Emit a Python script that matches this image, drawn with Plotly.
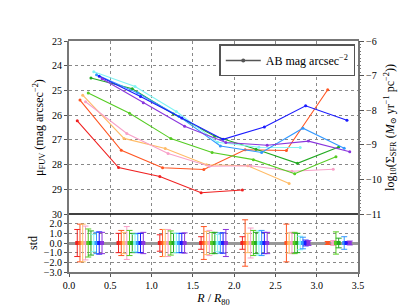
import plotly.graph_objects as go

# ---------------- data ----------------
BIN_START = [0.1, 0.6, 1.1, 1.6, 2.1, 2.6, 3.1]
SERIES_NAMES = ["red", "orangered", "orange", "pink", "greenA", "greenB",
                "cyan", "lightblue", "blue", "purple"]
SERIES_OFFSET = [0.0, 0.033, 0.066, 0.1, 0.133, 0.166, 0.2, 0.233, 0.266, 0.3]
SERIES_COLORS = ["#f02020", "#ff5522", "#ffbb66", "#f8a0c8", "#55cc22",
                 "#22aa22", "#80f4f4", "#3399ff", "#1a1aff", "#8a35dd"]

mu_red = [26.23, 28.12, 28.48, 29.14, 29.03, None, None]
mu_orangered = [25.39, 27.42, 28.13, 28.20, 27.40, 27.43, 24.97]
mu_orange = [25.19, 26.94, 27.35, 28.01, 28.05, 28.77, None]
mu_pink = [25.46, 26.74, 27.55, 28.07, 28.05, 28.27, 28.19]
mu_greenA = [25.10, 25.92, 26.95, 27.51, 27.80, 28.37, 27.68]
mu_greenB = [24.50, 24.93, 25.95, 26.85, 27.38, 27.95, 27.29]
mu_cyan = [24.24, 24.84, 25.85, 27.10, 27.30, 27.31, None]
mu_lightblue = [24.37, 25.10, 26.05, 27.25, 27.51, 26.53, 27.34]
mu_blue = [24.43, 25.25, 26.12, 26.98, 26.48, 25.62, 26.21]
mu_purple = [24.53, 25.50, 26.45, 27.11, 27.22, 27.05, 27.48]

std_red = [1.4, 1.0, 0.85, 0.65, 0.65, None, None]
std_orangered = [1.95, 1.3, 1.4, 1.7, 2.4, 1.95, 0.15]
std_orange = [1.95, 1.1, 1.4, 1.2, 1.0, 1.05, None]
std_pink = [1.75, 1.7, 1.4, 1.3, 1.55, 1.1, 0.25]
std_greenA = [1.45, 1.3, 1.25, 1.1, 1.3, 1.1, 1.15]
std_greenB = [1.25, 1.0, 1.0, 1.1, 1.1, 1.0, 0.5]
std_cyan = [0.9, 0.9, 1.0, 0.9, 1.25, 0.7, None]
std_lightblue = [1.1, 1.0, 1.0, 1.05, 1.3, 0.6, 0.65]
std_blue = [1.15, 1.0, 1.0, 1.05, 1.1, 0.3, 0.1]
std_purple = [1.1, 1.1, 1.05, 1.4, 1.1, 0.25, 0.2]

MU = [mu_red, mu_orangered, mu_orange, mu_pink, mu_greenA, mu_greenB,
      mu_cyan, mu_lightblue, mu_blue, mu_purple]
STD = [std_red, std_orangered, std_orange, std_pink, std_greenA, std_greenB,
       std_cyan, std_lightblue, std_blue, std_purple]

X_TICKS = [0.0, 0.5, 1.0, 1.5, 2.0, 2.5, 3.0, 3.5]
MU_TICKS = [23, 24, 25, 26, 27, 28, 29, 30]
SFR_TICKS = [-6, -7, -8, -9, -10, -11]
SFR_LABELS = ["−6", "−7", "−8", "−9", "−10", "−11"]
STD_TICKS = [-3.0, -2.0, -1.0, 0.0, 1.0, 2.0]
LEGEND_LABEL = "AB mag arcsec<sup>−2</sup>"

# ---------------- figure ----------------
FONT = "Liberation Serif, DejaVu Serif, serif"
fig = go.Figure()

for name, off, col, mu, sd in zip(SERIES_NAMES, SERIES_OFFSET, SERIES_COLORS, MU, STD):
    xs = [b + off for b in BIN_START]
    xm = [x for x, v in zip(xs, mu) if v is not None]
    ym = [v for v in mu if v is not None]
    fig.add_trace(go.Scatter(x=xm, y=ym, mode="lines+markers", xaxis="x", yaxis="y",
                             line=dict(color=col, width=1.1),
                             marker=dict(size=3, color=col), showlegend=False,
                             hoverinfo="skip"))
    xe = [x for x, v in zip(xs, sd) if v is not None]
    ye = [v for v in sd if v is not None]
    fig.add_trace(go.Scatter(x=xe, y=[0] * len(ye), mode="markers", xaxis="x2", yaxis="y2",
                             marker=dict(size=4, color=col, symbol="square"),
                             error_y=dict(type="data", array=ye, visible=True,
                                          color=col, thickness=1, width=3),
                             showlegend=False, hoverinfo="skip"))

# invisible trace to anchor the right axis
fig.add_trace(go.Scatter(x=[0, 3.5], y=[SFR_TICKS[0], SFR_TICKS[-1]], mode="markers",
                         xaxis="x", yaxis="y3", marker=dict(opacity=0),
                         showlegend=False, hoverinfo="skip"))

# legend entry
fig.add_trace(go.Scatter(x=[None], y=[None], mode="lines+markers", name=LEGEND_LABEL,
                         line=dict(color="#555555", width=1.5),
                         marker=dict(size=4, color="#555555"), xaxis="x", yaxis="y"))

split = 59 / 235
grid = dict(showgrid=True, gridcolor="#888888", griddash="dot", gridwidth=1)
yborder = dict(showline=True, linecolor="#777777", linewidth=2, mirror=True)

fig.update_layout(
    width=407, height=305,
    margin=dict(l=61, r=57, t=33, b=37),
    paper_bgcolor="white", plot_bgcolor="white",
    font=dict(family=FONT, size=10, color="black"),
    xaxis=dict(domain=[0, 1], anchor="y", range=[0, 3.5], tickvals=X_TICKS,
               showticklabels=False, ticks="", showline=False, **grid, zeroline=False),
    yaxis=dict(domain=[split, 1], anchor="x", range=[30, 23], tickvals=MU_TICKS,
               ticks="outside", ticklen=3, tickcolor="#555555",
               title=dict(text="μ<sub>FUV</sub> (mag arcsec<sup>−2</sup>)",
                          font=dict(size=12), standoff=6),
               **grid, **yborder, zeroline=False),
    yaxis3=dict(overlaying="y", side="right", anchor="x", range=[-11, -6],
                tickvals=SFR_TICKS, ticktext=SFR_LABELS,
                ticks="outside", ticklen=5, tickcolor="#555555", showgrid=False,
                zeroline=False,
                minor=dict(dtick=0.1, ticks="outside", ticklen=2, tickcolor="#777777"),
                title=dict(text="log<sub>10</sub>(Σ<sub>SFR</sub> (<i>M</i><sub>⊙</sub> yr<sup>−1</sup> pc<sup>−2</sup>))",
                           font=dict(size=12), standoff=3)),
    xaxis2=dict(domain=[0, 1], anchor="y2", range=[0, 3.5], tickvals=X_TICKS,
                tickformat=".1f", ticks="outside", ticklen=3, tickcolor="#555555",
                title=dict(text="<i>R</i> / <i>R</i><sub>80</sub>", font=dict(size=12),
                           standoff=2),
                showline=True, linecolor="#777777", linewidth=2, mirror=False,
                **grid, zeroline=False),
    yaxis2=dict(domain=[0, split], anchor="x2", range=[-3, 3], tickvals=STD_TICKS,
                tickformat=".1f", ticks="outside", ticklen=3, tickcolor="#555555",
                title=dict(text="std", font=dict(size=12), standoff=4),
                **grid, **yborder, zeroline=True, zerolinecolor="#999999",
                zerolinewidth=2.5),
    legend=dict(x=0.52, y=0.985, xanchor="left", yanchor="top",
                bordercolor="#555555", borderwidth=1.5, bgcolor="white",
                font=dict(size=12, family=FONT), itemwidth=35),
    shapes=[
        dict(type="line", xref="paper", yref="paper", x0=0, x1=1,
             y0=split, y1=split, line=dict(color="black", width=1.5)),
        dict(type="line", xref="paper", yref="paper", x0=-0.0035, x1=1.0035,
             y0=1.0043, y1=1.0043, line=dict(color="#777777", width=2)),
    ],
)

fig.write_html("out.html")
